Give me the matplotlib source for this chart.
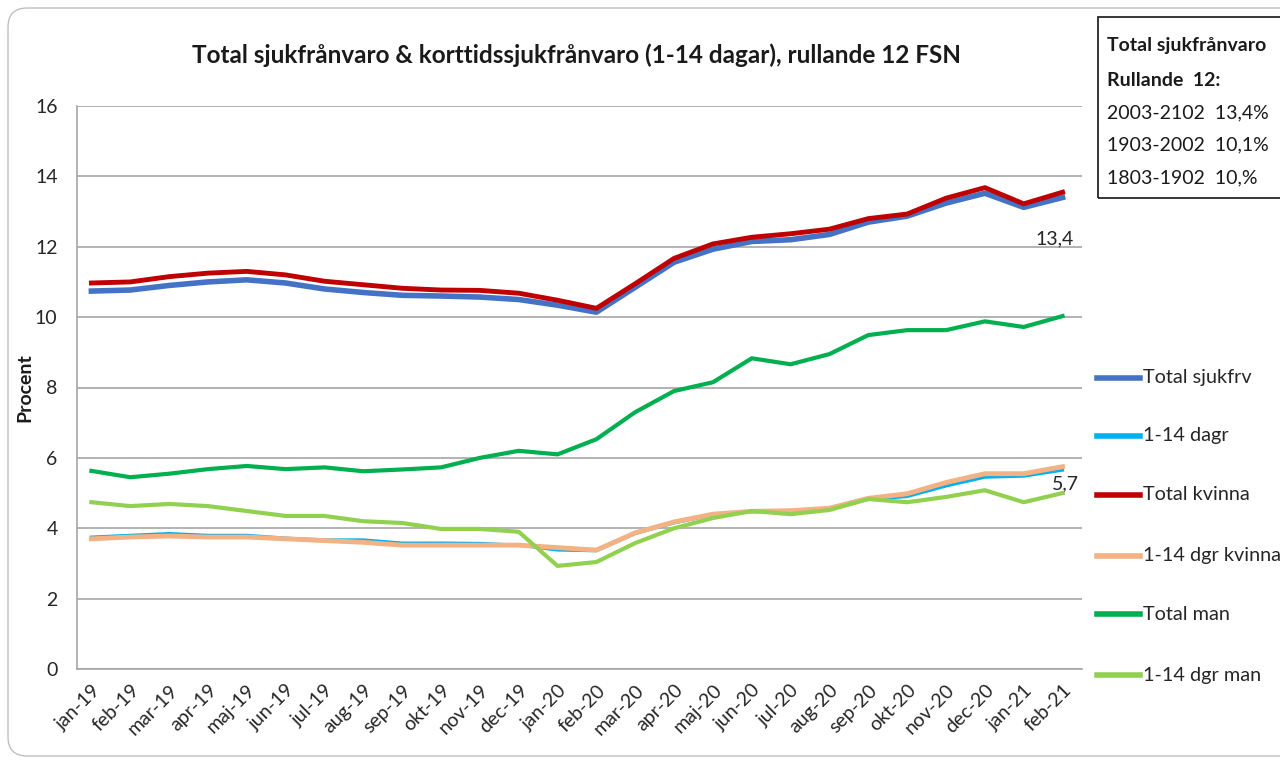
import matplotlib
matplotlib.use("Agg")
import matplotlib.pyplot as plt
from matplotlib.patches import FancyBboxPatch, Rectangle
from matplotlib.lines import Line2D

plt.rcParams['font.family'] = ['Lato', 'DejaVu Sans']

months = ["jan-19", "feb-19", "mar-19", "apr-19", "maj-19", "jun-19", "jul-19", "aug-19",
          "sep-19", "okt-19", "nov-19", "dec-19", "jan-20", "feb-20", "mar-20", "apr-20",
          "maj-20", "jun-20", "jul-20", "aug-20", "sep-20", "okt-20", "nov-20", "dec-20",
          "jan-21", "feb-21"]

total_sjukfrv = [10.74, 10.77, 10.90, 11.00, 11.06, 10.97, 10.80, 10.70, 10.62, 10.60, 10.57, 10.50,
                 10.34, 10.14, 10.85, 11.56, 11.93, 12.15, 12.20, 12.35, 12.70, 12.87, 13.24, 13.52,
                 13.12, 13.40]
dagr_1_14 = [3.75, 3.80, 3.85, 3.80, 3.80, 3.72, 3.67, 3.67, 3.58, 3.58, 3.57, 3.52,
             3.38, 3.36, 3.85, 4.15, 4.38, 4.47, 4.50, 4.55, 4.82, 4.90, 5.20, 5.45,
             5.48, 5.65]
total_kvinna = [10.97, 11.00, 11.15, 11.25, 11.30, 11.20, 11.02, 10.92, 10.82, 10.77, 10.76, 10.68,
                10.48, 10.25, 10.95, 11.67, 12.08, 12.27, 12.37, 12.50, 12.80, 12.93, 13.38, 13.68,
                13.22, 13.55]
dgr_kvinna = [3.70, 3.75, 3.78, 3.75, 3.75, 3.70, 3.65, 3.60, 3.52, 3.52, 3.52, 3.52,
              3.45, 3.38, 3.87, 4.18, 4.40, 4.48, 4.50, 4.57, 4.85, 4.98, 5.30, 5.55,
              5.55, 5.75]
total_man = [5.63, 5.45, 5.55, 5.68, 5.77, 5.68, 5.73, 5.62, 5.67, 5.73, 6.00, 6.20,
             6.10, 6.53, 7.30, 7.90, 8.15, 8.83, 8.66, 8.95, 9.49, 9.63, 9.63, 9.88,
             9.72, 10.03]
dgr_man = [4.74, 4.63, 4.69, 4.63, 4.49, 4.35, 4.35, 4.20, 4.15, 3.98, 3.98, 3.90,
           2.93, 3.04, 3.58, 4.00, 4.29, 4.49, 4.40, 4.52, 4.83, 4.74, 4.89, 5.08,
           4.74, 5.00]

series_names = ["Total sjukfrv", "1-14 dagr", "Total kvinna", "1-14 dgr kvinna", "Total man", "1-14 dgr man"]
series_colors = ["#4472C4", "#00B0F0", "#C00000", "#F4B183", "#00B050", "#92D050"]
series_widths = [4.0, 2.2, 3.5, 3.5, 3.0, 3.0]
series_data = [total_sjukfrv, dagr_1_14, total_kvinna, dgr_kvinna, total_man, dgr_man]

box_lines = ["Total sjukfrånvaro", "Rullande  12:", "2003-2102  13,4%", "1903-2002  10,1%", "1803-1902  10,%"]

W, H = 1280, 762
fig = plt.figure(figsize=(W / 100, H / 100), dpi=100)

# outer rounded border
border = FancyBboxPatch((8 / W, 6 / H), 1.2, (H - 14) / H,
                        boxstyle="round,pad=0,rounding_size=0.015",
                        transform=fig.transFigure, fill=False, edgecolor="#BFBFBF", linewidth=1.0,
                        mutation_aspect=W / H)
fig.patches.append(border)

ax_l, ax_r, ax_t, ax_b = 77, 1082, 106, 669
ax = fig.add_axes([ax_l / W, 1 - ax_b / H, (ax_r - ax_l) / W, (ax_b - ax_t) / H])

x = list(range(len(months)))
draw_order = [0, 2, 4, 1, 3, 5]
for i in draw_order:
    ax.plot(x, series_data[i], color=series_colors[i], linewidth=series_widths[i],
            solid_joinstyle="round", zorder=3 + i * 0.1)

ax.set_ylim(0, 16)
ax.set_yticks(range(0, 17, 2))
ax.set_xlim(-0.37, len(months) - 1 + 0.5)
ax.set_xticks(x)
ax.set_xticklabels(months, rotation=45, ha="right", rotation_mode="anchor", fontsize=14, color="#262626")
ax.tick_params(axis="y", length=0, pad=14, labelsize=14, labelcolor="#262626")
ax.tick_params(axis="x", length=0, pad=9)
ax.grid(axis="y", color="#A6A6A6", linewidth=1.2)
ax.set_axisbelow(True)
for s in ["top", "right"]:
    ax.spines[s].set_visible(False)
for s in ["left", "bottom"]:
    ax.spines[s].set_color("#A6A6A6")
    ax.spines[s].set_linewidth(1.2)

fig.text(25 / W, 1 - 388 / H, "Procent", rotation=90, ha="center", va="center",
         fontsize=14, fontweight="bold", color="#1a1a1a")

# data labels
ax.annotate("13,4", (x[-1], total_sjukfrv[-1]), xytext=(-6, -34), textcoords="offset points",
            fontsize=14, color="#262626", ha="center")
ax.annotate("5,7", (x[-1], dgr_kvinna[-1]), xytext=(2, -16), textcoords="offset points",
            fontsize=14, color="#262626", ha="center")

fig.text(577 / W, 1 - 55 / H, "Total sjukfrånvaro & korttidssjukfrånvaro (1-14 dagar), rullande 12 FSN",
         ha="center", va="center", fontsize=17.5, fontweight="bold", color="#1a1a1a")

# info box
fig.patches.append(Rectangle((1098 / W, 1 - 198 / H), 0.2, 181 / H, transform=fig.transFigure,
                             fill=False, edgecolor="#262626", linewidth=1.3))
box_y = [45, 80, 113, 145, 178]
for j, (t, yy) in enumerate(zip(box_lines, box_y)):
    fig.text(1107 / W, 1 - yy / H, t, ha="left", va="center", fontsize=14,
             fontweight="bold" if j < 2 else "normal", color="#1a1a1a")

# legend
leg_y = [378, 436, 495, 556, 614, 675]
for name, col, yy in zip(series_names, series_colors, leg_y):
    fig.add_artist(Line2D([1097 / W, 1140 / W], [1 - yy / H, 1 - yy / H], transform=fig.transFigure,
                          color=col, linewidth=4))
    fig.text(1143 / W, 1 - yy / H, name, ha="left", va="center", fontsize=14.3, color="#262626")

fig.savefig("out.png", dpi=100)
